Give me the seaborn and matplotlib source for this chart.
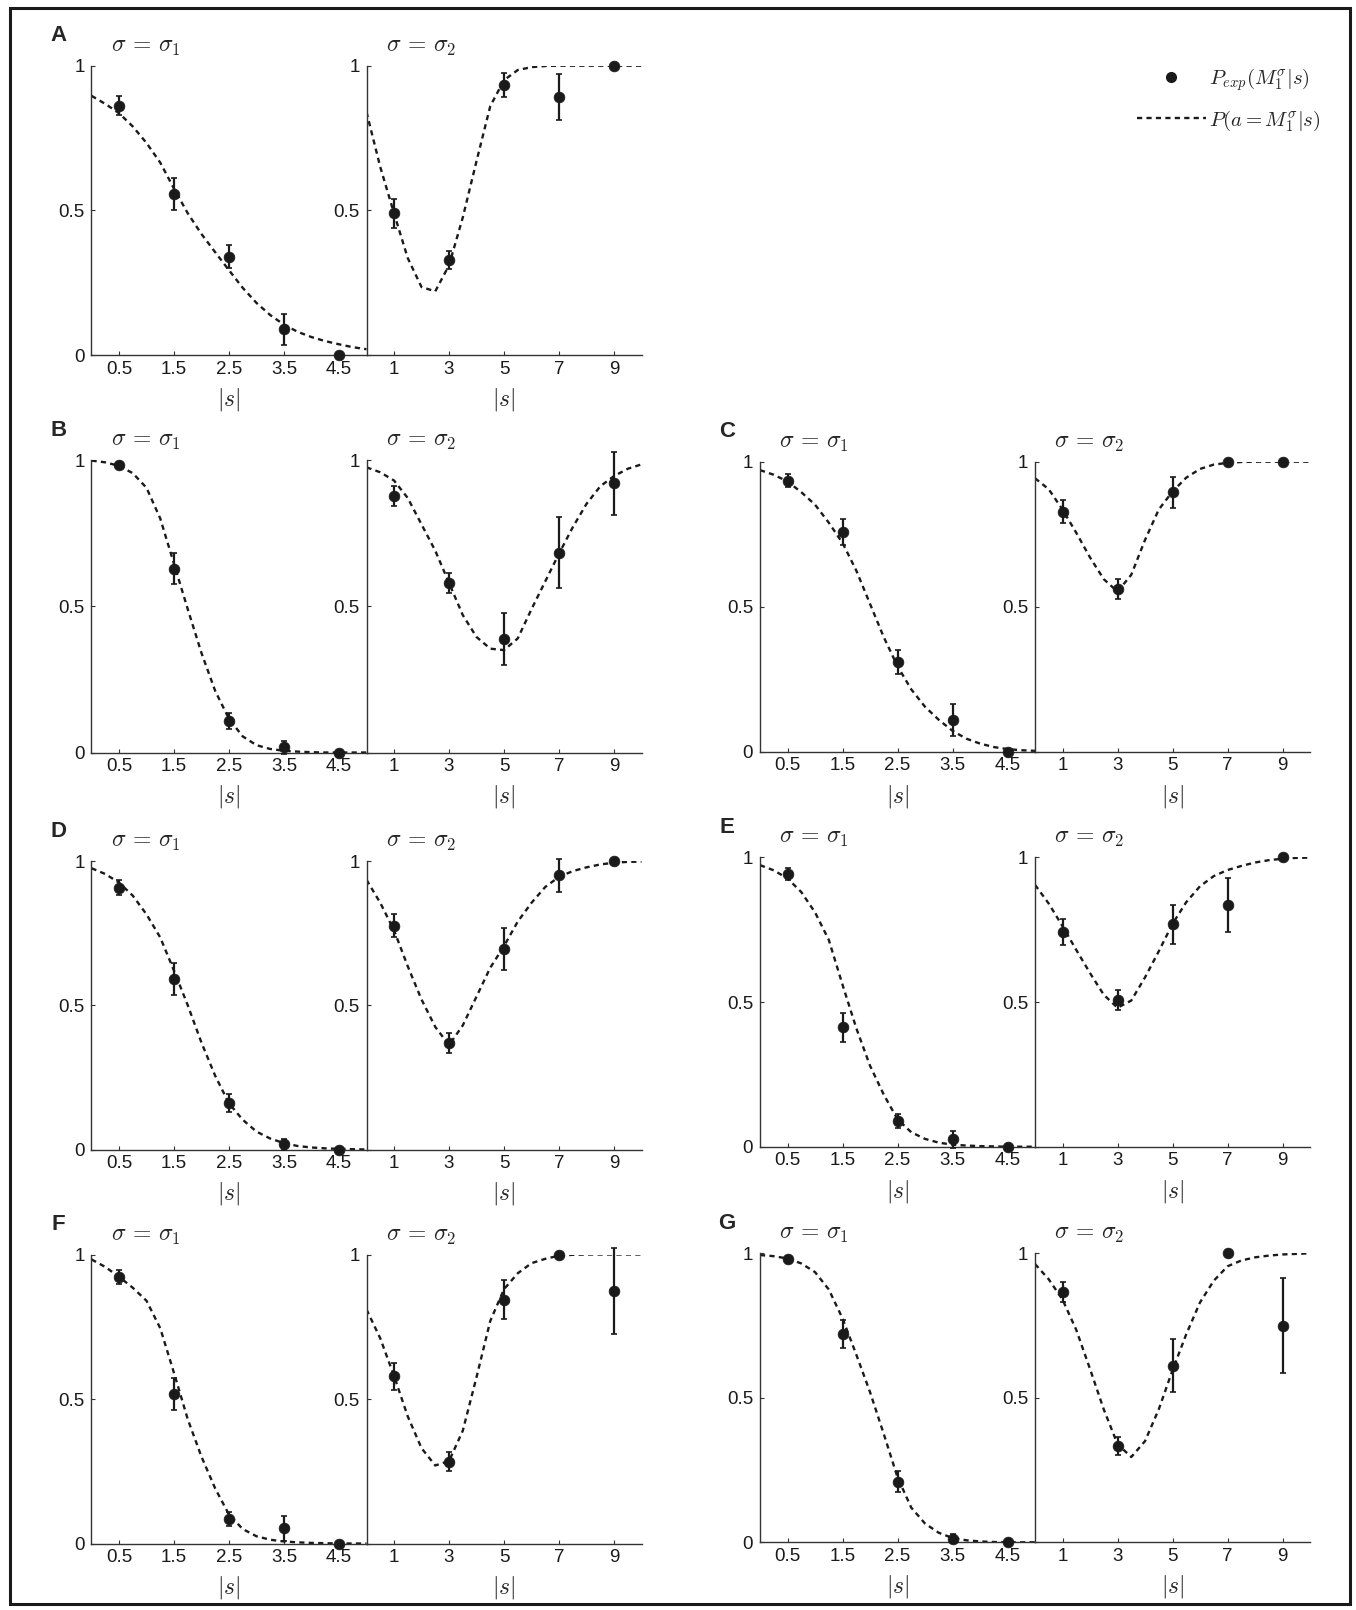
import numpy as np
import seaborn as sns
import matplotlib.pyplot as plt
from matplotlib.lines import Line2D
from matplotlib.patches import Rectangle

# stimulus magnitudes |s| for the two noise levels
s1_x = [0.5, 1.5, 2.5, 3.5, 4.5]
s2_x = [1, 3, 5, 7, 9]
s1_ticks = ["0.5", "1.5", "2.5", "3.5", "4.5"]
s2_ticks = ["1", "3", "5", "7", "9"]
# sample positions of the model curves
fit1_x = np.arange(0, 5.01, 0.25)
fit2_x = np.arange(0, 10.01, 0.5)

# panel A
a1_p = [0.861, 0.556, 0.340, 0.089, 0.0]
a1_e = [0.033, 0.056, 0.040, 0.054, 0.0]
a1_fit = [0.896, 0.868, 0.836, 0.790, 0.733, 0.665, 0.575, 0.490, 0.418, 0.355, 0.293,
          0.232, 0.180, 0.138, 0.105, 0.080, 0.062, 0.048, 0.037, 0.027, 0.020]
a2_p = [0.490, 0.328, 0.933, 0.893, 1.0]
a2_e = [0.050, 0.032, 0.041, 0.080, 0.0]
a2_fit = [0.840, 0.650, 0.490, 0.335, 0.235, 0.220, 0.310, 0.475, 0.670, 0.860, 0.950,
          0.985, 0.995, 0.999, 1.0, 1.0, 1.0, 1.0, 1.0, 1.0, 1.0]

# panel B
b1_p = [0.983, 0.629, 0.109, 0.018, 0.0]
b1_e = [0.010, 0.052, 0.027, 0.022, 0.0]
b1_fit = [0.998, 0.992, 0.980, 0.955, 0.905, 0.800, 0.645, 0.490, 0.340, 0.210, 0.115,
          0.055, 0.025, 0.012, 0.006, 0.003, 0.001, 0.0, 0.0, 0.0, 0.0]
b2_p = [0.877, 0.581, 0.387, 0.683, 0.920]
b2_e = [0.033, 0.034, 0.089, 0.121, 0.107]
b2_fit = [0.975, 0.958, 0.930, 0.870, 0.780, 0.690, 0.580, 0.470, 0.395, 0.355, 0.350,
          0.390, 0.490, 0.585, 0.680, 0.770, 0.850, 0.910, 0.945, 0.970, 0.985]

# panel C
c1_p = [0.934, 0.757, 0.310, 0.109, 0.0]
c1_e = [0.022, 0.045, 0.042, 0.055, 0.0]
c1_fit = [0.971, 0.955, 0.932, 0.895, 0.852, 0.790, 0.720, 0.625, 0.510, 0.395, 0.295,
          0.215, 0.155, 0.110, 0.072, 0.045, 0.028, 0.016, 0.009, 0.005, 0.003]
c2_p = [0.828, 0.561, 0.894, 1.0, 1.0]
c2_e = [0.040, 0.035, 0.054, 0.0, 0.0]
c2_fit = [0.943, 0.905, 0.835, 0.755, 0.670, 0.595, 0.552, 0.610, 0.730, 0.835, 0.897,
          0.945, 0.975, 0.990, 0.996, 0.999, 1.0, 1.0, 1.0, 1.0, 1.0]

# panel D
d1_p = [0.908, 0.591, 0.162, 0.018, 0.0]
d1_e = [0.026, 0.056, 0.032, 0.018, 0.0]
d1_fit = [0.975, 0.955, 0.925, 0.880, 0.815, 0.735, 0.620, 0.500, 0.370, 0.255, 0.160,
          0.103, 0.062, 0.038, 0.022, 0.012, 0.007, 0.004, 0.002, 0.001, 0.0]
d2_p = [0.775, 0.368, 0.695, 0.951, 1.0]
d2_e = [0.040, 0.035, 0.073, 0.057, 0.0]
d2_fit = [0.935, 0.855, 0.760, 0.635, 0.520, 0.425, 0.362, 0.430, 0.530, 0.630, 0.705,
          0.790, 0.855, 0.910, 0.945, 0.965, 0.978, 0.988, 0.994, 0.997, 0.998]

# panel E
e1_p = [0.942, 0.412, 0.090, 0.025, 0.0]
e1_e = [0.020, 0.051, 0.024, 0.030, 0.0]
e1_fit = [0.973, 0.955, 0.927, 0.880, 0.810, 0.715, 0.560, 0.410, 0.280, 0.180, 0.095,
          0.050, 0.027, 0.014, 0.007, 0.004, 0.002, 0.001, 0.0, 0.0, 0.0]
e2_p = [0.743, 0.507, 0.768, 0.834, 1.0]
e2_e = [0.045, 0.035, 0.066, 0.093, 0.0]
e2_fit = [0.905, 0.840, 0.762, 0.680, 0.600, 0.525, 0.480, 0.505, 0.585, 0.675, 0.770,
          0.845, 0.900, 0.935, 0.956, 0.970, 0.982, 0.990, 0.995, 0.998, 0.999]

# panel F
f1_p = [0.922, 0.517, 0.085, 0.052, 0.0]
f1_e = [0.025, 0.055, 0.025, 0.043, 0.0]
f1_fit = [0.983, 0.957, 0.923, 0.885, 0.840, 0.745, 0.590, 0.430, 0.300, 0.190, 0.100,
          0.050, 0.025, 0.013, 0.007, 0.004, 0.002, 0.001, 0.0, 0.0, 0.0]
f2_p = [0.579, 0.283, 0.844, 1.0, 0.873]
f2_e = [0.047, 0.032, 0.067, 0.0, 0.149]
f2_fit = [0.810, 0.710, 0.580, 0.440, 0.330, 0.270, 0.285, 0.390, 0.575, 0.770, 0.880,
          0.935, 0.970, 0.985, 0.996, 0.999, 1.0, 1.0, 1.0, 1.0, 1.0]

# panel G
g1_p = [0.979, 0.721, 0.210, 0.013, 0.0]
g1_e = [0.008, 0.049, 0.035, 0.016, 0.0]
g1_fit = [0.994, 0.990, 0.982, 0.965, 0.935, 0.875, 0.775, 0.650, 0.520, 0.375, 0.225,
          0.120, 0.065, 0.033, 0.015, 0.007, 0.003, 0.001, 0.0, 0.0, 0.0]
g2_p = [0.865, 0.334, 0.611, 1.0, 0.750]
g2_e = [0.034, 0.032, 0.092, 0.0, 0.164]
g2_fit = [0.963, 0.910, 0.840, 0.735, 0.600, 0.460, 0.340, 0.295, 0.350, 0.460, 0.595,
          0.720, 0.830, 0.905, 0.955, 0.975, 0.986, 0.992, 0.996, 0.998, 1.0]

panels = {
    "A": (a1_p, a1_e, a1_fit, a2_p, a2_e, a2_fit),
    "B": (b1_p, b1_e, b1_fit, b2_p, b2_e, b2_fit),
    "C": (c1_p, c1_e, c1_fit, c2_p, c2_e, c2_fit),
    "D": (d1_p, d1_e, d1_fit, d2_p, d2_e, d2_fit),
    "E": (e1_p, e1_e, e1_fit, e2_p, e2_e, e2_fit),
    "F": (f1_p, f1_e, f1_fit, f2_p, f2_e, f2_fit),
    "G": (g1_p, g1_e, g1_fit, g2_p, g2_e, g2_fit),
}

# layout in pixels: (left of sigma1 axes, top, bottom)
W, H = 1356, 1610
layout = {
    "A": (91.5, 65.7, 355.0),
    "B": (91.5, 460.0, 752.5),
    "C": (760.0, 461.7, 751.7),
    "D": (91.5, 861.0, 1149.5),
    "E": (760.0, 857.3, 1146.7),
    "F": (91.5, 1254.5, 1543.5),
    "G": (760.0, 1253.3, 1542.3),
}
AX_W = 275.0

sns.set_theme(style="ticks")
plt.rcParams["font.family"] = ["Liberation Sans", "DejaVu Sans"]
plt.rcParams["mathtext.fontset"] = "cm"

fig = plt.figure(figsize=(W / 100, H / 100), dpi=100)
DASH = (0, (2.2, 1.8))


def draw(ax, x, p, e, fx, fy, xmax, ticks, ticklabels, first):
    sns.lineplot(x=fx, y=fy, ax=ax, color="k", lw=1.7, linestyle=DASH)
    ax.errorbar(x, p, yerr=e, fmt="none", ecolor="k", elinewidth=1.6,
                capsize=2.2, capthick=1.2, clip_on=False, zorder=4)
    sns.scatterplot(x=x, y=p, ax=ax, color="k", s=60, edgecolor="k",
                    linewidth=0.5, zorder=5, clip_on=False)
    ax.set_xlim(0, xmax)
    ax.set_ylim(0, 1)
    ax.set_xticks(ticks)
    ax.set_xticklabels(ticklabels)
    ax.set_yticks([0, 0.5, 1])
    ax.set_yticklabels(["0" if first else "", "0.5", "1"])
    for sp in ["top", "right"]:
        ax.spines[sp].set_visible(False)
    for sp in ["left", "bottom"]:
        ax.spines[sp].set_color("#333333")
        ax.spines[sp].set_linewidth(1.0)
    ax.tick_params(direction="in", length=3, width=0.8, labelsize=13.5,
                   colors="#333333", labelcolor="k")
    ax.tick_params(axis="x", pad=4)
    ax.tick_params(axis="y", pad=5)
    ax.set_xlabel(r"$|s|$", fontsize=17, labelpad=6)
    ax.set_ylabel("")
    ax.patch.set_alpha(0)


for key, (p1, e1, fit1, p2, e2, fit2) in panels.items():
    left, top, bottom = layout[key]
    h = bottom - top
    ax1 = fig.add_axes([left / W, 1 - bottom / H, AX_W / W, h / H])
    ax2 = fig.add_axes([(left + AX_W) / W, 1 - bottom / H, AX_W / W, h / H])
    draw(ax1, s1_x, p1, e1, fit1_x, fit1, 5, s1_x, s1_ticks, True)
    draw(ax2, s2_x, p2, e2, fit2_x, fit2, 10, s2_x, s2_ticks, False)
    ty = 1 + 19 / h
    ax1.text(0.07, ty, r"$\sigma\,=\,\sigma_1$", transform=ax1.transAxes,
             fontsize=17, ha="left", va="center")
    ax2.text(0.07, ty, r"$\sigma\,=\,\sigma_2$", transform=ax2.transAxes,
             fontsize=17, ha="left", va="center")
    fig.text((left - 33) / W, 1 - (top - 30) / H, key, fontsize=16,
             fontweight="bold", ha="center", va="center")

# legend in the empty upper right area
handles = [
    Line2D([], [], color="k", marker="o", linestyle="none", markersize=7),
    Line2D([], [], color="k", lw=1.7, linestyle=DASH),
]
labels = [r"$P_{exp}(M_1^{\sigma}|s)$", r"$P(a=M_1^{\sigma}|s)$"]
fig.legend(handles, labels, loc="upper left", bbox_to_anchor=(1137 / W, 1 - 66 / H),
           frameon=False, fontsize=15, handlelength=3.3, handletextpad=0.15,
           labelspacing=0.75, borderpad=0, borderaxespad=0)

# outer frame
fig.add_artist(Rectangle((10 / W, 1 - 1604 / H), 1340 / W, 1596 / H,
                         transform=fig.transFigure, fill=False, lw=2.2, ec="k"))

fig.savefig("out.png", dpi=100, facecolor="white")
